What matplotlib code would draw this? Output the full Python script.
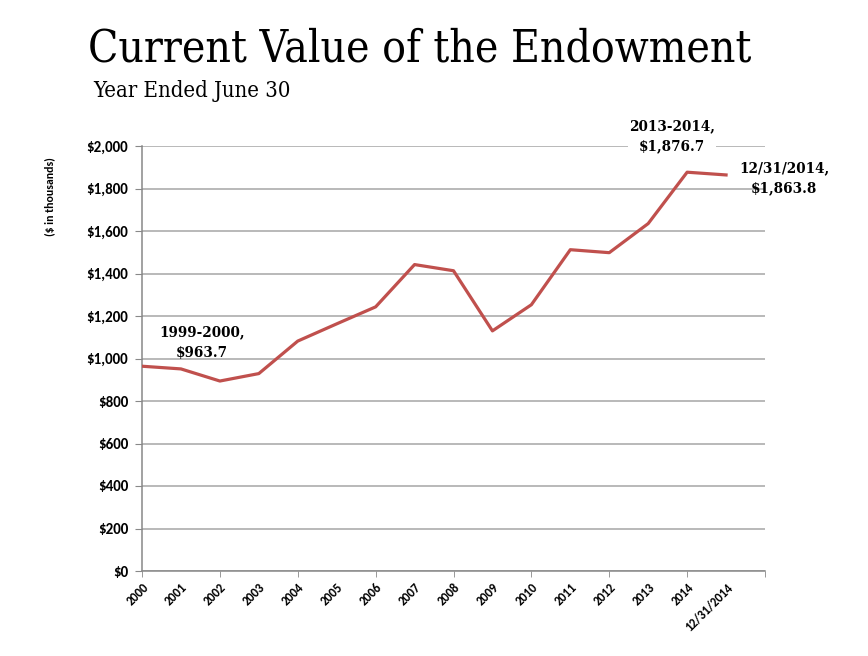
import matplotlib
matplotlib.use("Agg")
from matplotlib import pyplot as plt
from matplotlib.ticker import FuncFormatter

# data ($ in thousands)
categories = ['2000', '2001', '2002', '2003', '2004', '2005', '2006', '2007',
              '2008', '2009', '2010', '2011', '2012', '2013', '2014', '12/31/2014']
values = [963.7, 951, 894, 929, 1082, 1163, 1243, 1442,
          1413, 1130, 1253, 1512, 1498, 1635, 1876.7, 1863.8]
y_ticks = [0, 200, 400, 600, 800, 1000, 1200, 1400, 1600, 1800, 2000]

LINE_COLOR = '#c0504d'
GRID_COLOR = '#a6a6a6'
AXIS_COLOR = '#888888'
SANS = ['Carlito', 'Open Sans', 'DejaVu Sans']
serif = dict(family='DejaVu Serif', fontstretch='condensed')

fig = plt.figure(figsize=(8.68, 6.56), dpi=100)
ax = fig.add_axes([142 / 868, 1 - 571 / 656, (765 - 142) / 868, (571 - 146) / 656])

x = list(range(len(categories)))
ax.plot(x, values, color=LINE_COLOR, linewidth=2.3, zorder=3)

ax.set_xlim(0, len(categories))
ax.set_ylim(0, 2000)
ax.set_yticks(y_ticks)
ax.yaxis.set_major_formatter(FuncFormatter(lambda v, p: f'${v:,.0f}'))
ax.grid(axis='y', color=GRID_COLOR, linewidth=1.1)
ax.set_axisbelow(True)

# labels on every category, tick marks on every other one
ax.xaxis.remove_overlapping_locs = False
ax.set_xticks(x)
ax.set_xticklabels(categories, rotation=45, ha='right', rotation_mode='anchor',
                   family=SANS, fontweight='bold', fontsize=9)
ax.tick_params(axis='x', which='major', length=0, pad=7)
ax.set_xticks(range(0, len(categories) + 1, 2), minor=True)
ax.tick_params(axis='x', which='minor', length=4, color=AXIS_COLOR)
ax.tick_params(axis='y', length=5, color=AXIS_COLOR, pad=5)
for lbl in ax.get_yticklabels():
    lbl.set_family(SANS)
    lbl.set_fontweight('bold')
    lbl.set_fontsize(10.8)

for side in ['top', 'right']:
    ax.spines[side].set_visible(False)
for side in ['left', 'bottom']:
    ax.spines[side].set_color(AXIS_COLOR)
    ax.spines[side].set_linewidth(1.1)

# data labels
ax.annotate('1999-2000,\n$963.7', xy=(x[0], values[0]), xytext=(43, 17),
            textcoords='offset points', ha='center', va='center',
            fontweight='bold', fontsize=10.8, linespacing=1.55, **serif)
ax.annotate('2013-2014,\n$1,876.7', xy=(x[14], values[14]), xytext=(-11, 26),
            textcoords='offset points', ha='center', va='center',
            fontweight='bold', fontsize=10.8, linespacing=1.55,
            bbox=dict(facecolor='white', edgecolor='none', pad=1), **serif)
ax.annotate('12/31/2014,\n$1,863.8', xy=(x[15], values[15]), xytext=(42, -2),
            textcoords='offset points', ha='center', va='center',
            fontweight='bold', fontsize=10.8, linespacing=1.55,
            annotation_clip=False, **serif)

fig.text(88 / 868, 1 - 62 / 656, 'Current Value of the Endowment',
         fontsize=31.8, ha='left', va='baseline', **serif)
fig.text(93 / 868, 1 - 97 / 656, 'Year Ended June 30',
         fontsize=15.8, ha='left', va='baseline', **serif)
fig.text(50 / 868, 1 - 197 / 656, '($ in thousands)', rotation=90,
         family=SANS, fontweight='bold', fontsize=8.5, ha='center', va='center')

fig.savefig('out.png', dpi=100)
